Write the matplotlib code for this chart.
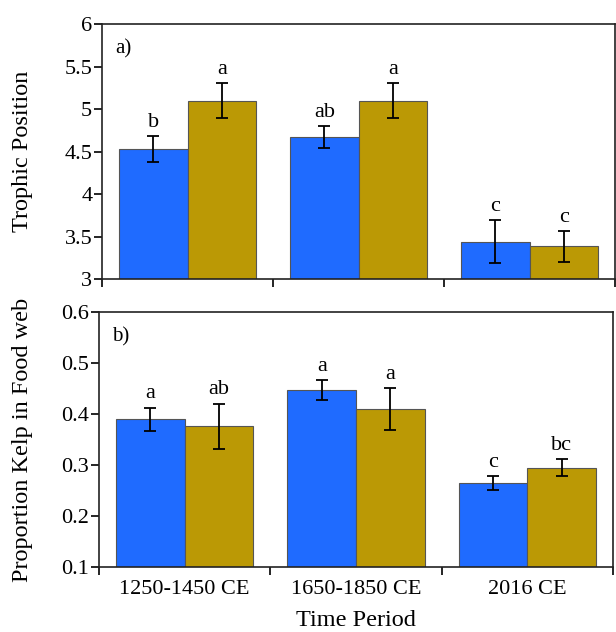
import numpy as np
import matplotlib.pyplot as plt

periods = ["1250-1450 CE", "1650-1850 CE", "2016 CE"]

# panel a) trophic position
tp_blue = [4.53, 4.67, 3.44]
tp_blue_err = [0.15, 0.13, 0.25]
tp_gold = [5.10, 5.10, 3.385]
tp_gold_err = [0.21, 0.21, 0.18]
tp_blue_letters = ["b", "ab", "c"]
tp_gold_letters = ["a", "a", "c"]

# panel b) proportion kelp
pk_blue = [0.390, 0.447, 0.265]
pk_blue_err = [0.023, 0.020, 0.013]
pk_gold = [0.376, 0.410, 0.295]
pk_gold_err = [0.045, 0.041, 0.017]
pk_blue_letters = ["a", "a", "c"]
pk_gold_letters = ["ab", "a", "bc"]

BLUE = "#1f6bff"
GOLD = "#bb9905"

plt.rcParams["font.family"] = ["Liberation Serif", "DejaVu Serif"]


def panel(ax, blue, blue_err, gold, gold_err, lb, lg, ylim, yticks, ylabel, tag, label_x):
    x = np.arange(len(periods)) + 0.5
    w = 0.4
    for xs, vals, errs, col, letters in [
        (x - w / 2, blue, blue_err, BLUE, lb),
        (x + w / 2, gold, gold_err, GOLD, lg),
    ]:
        ax.bar(xs, vals, width=w, color=col, edgecolor="#555555", linewidth=0.8, zorder=2)
        ax.errorbar(xs, vals, yerr=errs, fmt="none", ecolor="black",
                    elinewidth=1.3, capsize=4, capthick=1.3, zorder=3)
        for xi, v, e, t in zip(xs, vals, errs, letters):
            ax.annotate(t, (xi, v + e), xytext=(0, 3), textcoords="offset points",
                        ha="center", va="bottom", fontsize=16)
    ax.set_xlim(0, 3)
    ax.set_ylim(*ylim)
    ax.set_yticks(yticks)
    ax.set_yticklabels([("%g" % t) for t in yticks], fontsize=16)
    ax.set_xticks(x)
    ax.set_xticks(np.arange(4), minor=True)
    ax.tick_params(axis="x", which="major", length=0, pad=9, labelsize=16)
    ax.tick_params(axis="x", which="minor", length=6, width=1.2, direction="out")
    ax.tick_params(axis="y", length=6, width=1.2, direction="out", pad=1)
    ax.set_ylabel(ylabel, fontsize=17.5)
    ax.yaxis.set_label_coords(label_x, 0.5)
    for s in ax.spines.values():
        s.set_linewidth(1.2)
        s.set_color("#222222")
    ax.text(0.025, 0.94, tag, transform=ax.transAxes, fontsize=15, va="top", ha="left")


fig = plt.figure(figsize=(6.16, 6.32), dpi=100)
ax1 = fig.add_axes([0.1656, 0.5585, 0.8328, 0.4035])
ax2 = fig.add_axes([0.1607, 0.1028, 0.8344, 0.4030])

panel(ax1, tp_blue, tp_blue_err, tp_gold, tp_gold_err, tp_blue_letters, tp_gold_letters,
      (3, 6), [3, 3.5, 4, 4.5, 5, 5.5, 6], "Trophic Position", "a)", -0.135)
ax1.set_xticklabels([])

panel(ax2, pk_blue, pk_blue_err, pk_gold, pk_gold_err, pk_blue_letters, pk_gold_letters,
      (0.1, 0.6), [0.1, 0.2, 0.3, 0.4, 0.5, 0.6], "Proportion Kelp in Food web", "b)", -0.129)
ax2.set_xticklabels(periods)
ax2.set_xlabel("Time Period", fontsize=17.5, labelpad=8)

fig.savefig("out.png", dpi=100)
